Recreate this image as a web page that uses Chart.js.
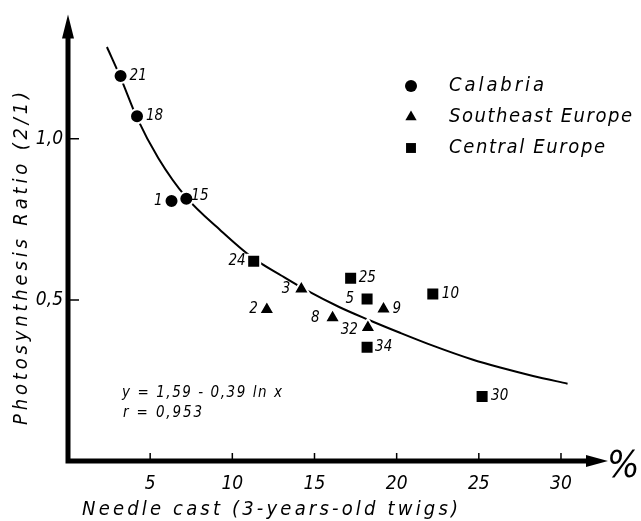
<!DOCTYPE html>
<html>
<head>
<meta charset="utf-8">
<script src="https://cdn.jsdelivr.net/npm/chart.js@4/dist/chart.umd.min.js"></script>
<style>
  body { margin: 0; background: #fff; }
  canvas { display: block; }
</style>
</head>
<body>
<canvas id="chart" width="641" height="521"></canvas>
<script>
// values
const calabriaX = [3.2, 4.2, 6.3, 7.2];
const calabriaY = [1.195, 1.07, 0.807, 0.814];
const calabriaIds = ["21", "18", "1", "15"];

const southeastX = [14.2, 12.1, 16.1, 18.25, 19.2];
const southeastY = [0.534, 0.47, 0.445, 0.414, 0.472];
const southeastIds = ["3", "2", "8", "32", "9"];

const centralX = [11.3, 17.2, 18.2, 22.2, 18.2, 25.2];
const centralY = [0.62, 0.567, 0.503, 0.518, 0.353, 0.2];
const centralIds = ["24", "25", "5", "10", "34", "30"];

// fitted curve
const fitX = [2.37, 3.2, 4.2, 5.5, 7.2, 9.3, 11.2, 13.0, 14.5, 16.5, 18.2, 20.2, 22.2, 24.6, 26.3, 28.3, 30.4];
const fitY = [1.285, 1.19, 1.065, 0.94, 0.818, 0.715, 0.632, 0.575, 0.53, 0.478, 0.44, 0.398, 0.358, 0.315, 0.29, 0.264, 0.24];

const xTicks = [5, 10, 15, 20, 25, 30];
const yTicks = [0.5, 1.0];

const seriesNames = ["Calabria", "Southeast Europe", "Central Europe"];
const xTitle = "Needle cast (3-years-old twigs)";
const yTitle = "Photosynthesis Ratio (2/1)";
const eqLines = ["y = 1,59 - 0,39 ln x", "r = 0,953"];

const FONT = '"DejaVu Sans Condensed", "DejaVu Sans", sans-serif';

// where each sample number sits relative to its marker (dx < 0 means left side)
const labelPos = {
  "21": [9, 0], "18": [9, 0], "1": [-9, 0], "15": [5, -3],
  "24": [-8, 0], "3": [-11, 0], "2": [-9, 0], "8": [-13, 0], "32": [-10, 2], "9": [9, 0],
  "25": [8, 0], "5": [-13, 0], "10": [9, 0], "34": [8, 0], "30": [9, 0]
};

const toPts = (xs, ys) => xs.map((x, i) => ({ x: x, y: ys[i] }));

// draw text char by char so it can be stretched to a given width
function spaced(ctx, text, x, y, width) {
  const chars = [...text];
  const ws = chars.map(c => ctx.measureText(c).width);
  const raw = ws.reduce((a, b) => a + b, 0);
  const gap = chars.length > 1 ? (width - raw) / (chars.length - 1) : 0;
  let cx = x;
  chars.forEach((c, i) => {
    ctx.fillText(c, cx, y);
    cx += ws[i] + gap;
  });
}

const markerStyles = ["circle", "triangle", "rect"];
const markerRadius = [7, 9, 9.2];

const decorations = {
  id: "decorations",
  beforeDraw(chart) {
    const ctx = chart.ctx;
    ctx.save();
    ctx.fillStyle = "#fff";
    ctx.fillRect(0, 0, chart.width, chart.height);
    ctx.restore();
  },
  afterDatasetsDraw(chart) {
    const ctx = chart.ctx;
    const ids = [calabriaIds, southeastIds, centralIds];
    ctx.save();
    ctx.fillStyle = "#000";
    ctx.font = "italic 15px " + FONT;
    ctx.textBaseline = "middle";
    ids.forEach((list, di) => {
      const meta = chart.getDatasetMeta(di);
      list.forEach((id, j) => {
        const el = meta.data[j];
        const p = labelPos[id] || [9, 0];
        ctx.textAlign = p[0] < 0 ? "right" : "left";
        ctx.fillText(id, el.x + p[0], el.y + p[1]);
      });
    });
    ctx.restore();
  },
  afterDraw(chart) {
    const ctx = chart.ctx;
    const a = chart.chartArea;
    const xs = chart.scales.x, ys = chart.scales.y;
    ctx.save();
    ctx.fillStyle = "#000";
    ctx.strokeStyle = "#000";

    // axes
    ctx.lineWidth = 5;
    ctx.beginPath();
    ctx.moveTo(a.left, a.top + 20);
    ctx.lineTo(a.left, a.bottom + 2.5);
    ctx.moveTo(a.left - 2.5, a.bottom);
    ctx.lineTo(a.right - 18, a.bottom);
    ctx.stroke();
    // arrow heads
    ctx.beginPath();
    ctx.moveTo(a.left, a.top - 2);
    ctx.lineTo(a.left - 6, a.top + 22);
    ctx.lineTo(a.left + 6, a.top + 22);
    ctx.closePath();
    ctx.fill();
    ctx.beginPath();
    ctx.moveTo(a.right + 1, a.bottom);
    ctx.lineTo(a.right - 21, a.bottom - 6);
    ctx.lineTo(a.right - 21, a.bottom + 6);
    ctx.closePath();
    ctx.fill();

    // tick marks
    ctx.lineWidth = 1.5;
    ctx.beginPath();
    xTicks.forEach(v => {
      const px = xs.getPixelForValue(v);
      ctx.moveTo(px, a.bottom);
      ctx.lineTo(px, a.bottom - 8);
    });
    yTicks.forEach(v => {
      const py = ys.getPixelForValue(v);
      ctx.moveTo(a.left, py);
      ctx.lineTo(a.left + 11, py);
    });
    ctx.stroke();

    // axis titles
    ctx.textAlign = "left";
    ctx.textBaseline = "alphabetic";
    ctx.font = "italic 20px " + FONT;
    spaced(ctx, xTitle, 82, 515, 376);
    ctx.save();
    ctx.translate(27, 425);
    ctx.rotate(-Math.PI / 2);
    spaced(ctx, yTitle, 0, 0, 333);
    ctx.restore();

    // percent sign
    ctx.font = "italic 38px " + FONT;
    ctx.fillText("%", 607, 477);

    // regression text
    ctx.font = "italic 15px " + FONT;
    spaced(ctx, eqLines[0], 122, 397, 160);
    spaced(ctx, eqLines[1], 123, 417, 79);

    // legend
    const legendY = [86, 117, 148];
    const legendW = [95, 183, 156];
    const legendR = [6, 6.5, 7];
    seriesNames.forEach((name, i) => {
      Chart.helpers.drawPoint(ctx, { pointStyle: markerStyles[i], radius: legendR[i], borderWidth: 0, rotation: 0 }, 411, legendY[i]);
      ctx.fillStyle = "#000";
      ctx.font = "italic 20px " + FONT;
      ctx.textBaseline = "middle";
      spaced(ctx, name, 449, legendY[i], legendW[i]);
    });
    ctx.restore();
  }
};

const scatterSet = (label, pts, i) => ({
  label: label,
  data: pts,
  pointStyle: markerStyles[i],
  pointRadius: markerRadius[i],
  pointHoverRadius: markerRadius[i],
  backgroundColor: "#000",
  pointBackgroundColor: "#000",
  pointBorderColor: "#fff",
  pointBorderWidth: 2,
  showLine: false,
  order: 0
});

new Chart(document.getElementById("chart"), {
  type: "scatter",
  data: {
    datasets: [
      scatterSet(seriesNames[0], toPts(calabriaX, calabriaY), 0),
      scatterSet(seriesNames[1], toPts(southeastX, southeastY), 1),
      scatterSet(seriesNames[2], toPts(centralX, centralY), 2),
      {
        label: "fit",
        data: toPts(fitX, fitY),
        showLine: true,
        borderColor: "#000",
        borderWidth: 2,
        pointRadius: 0,
        cubicInterpolationMode: "monotone",
        order: 10
      }
    ]
  },
  options: {
    responsive: false,
    animation: false,
    layout: { padding: { top: 10, right: 34, left: 0, bottom: 0 } },
    plugins: { legend: { display: false }, tooltip: { enabled: false } },
    scales: {
      x: {
        type: "linear",
        min: 0,
        max: 32.8,
        grid: { display: false, drawTicks: false },
        border: { display: false },
        afterBuildTicks: s => { s.ticks = xTicks.map(v => ({ value: v })); },
        afterFit: s => { s.height = 60; },
        ticks: {
          autoSkip: false,
          maxRotation: 0,
          padding: 12,
          color: "#000",
          font: { family: FONT, size: 19, style: "italic" },
          callback: v => String(v)
        }
      },
      y: {
        type: "linear",
        min: 0,
        max: 1.38,
        grid: { display: false, drawTicks: false },
        border: { display: false },
        afterBuildTicks: s => { s.ticks = yTicks.map(v => ({ value: v })); },
        afterFit: s => { s.width = 68; },
        ticks: {
          padding: 5,
          color: "#000",
          font: { family: FONT, size: 19, style: "italic" },
          callback: v => v.toFixed(1).replace(".", ",")
        }
      }
    }
  },
  plugins: [decorations]
});
</script>
</body>
</html>
